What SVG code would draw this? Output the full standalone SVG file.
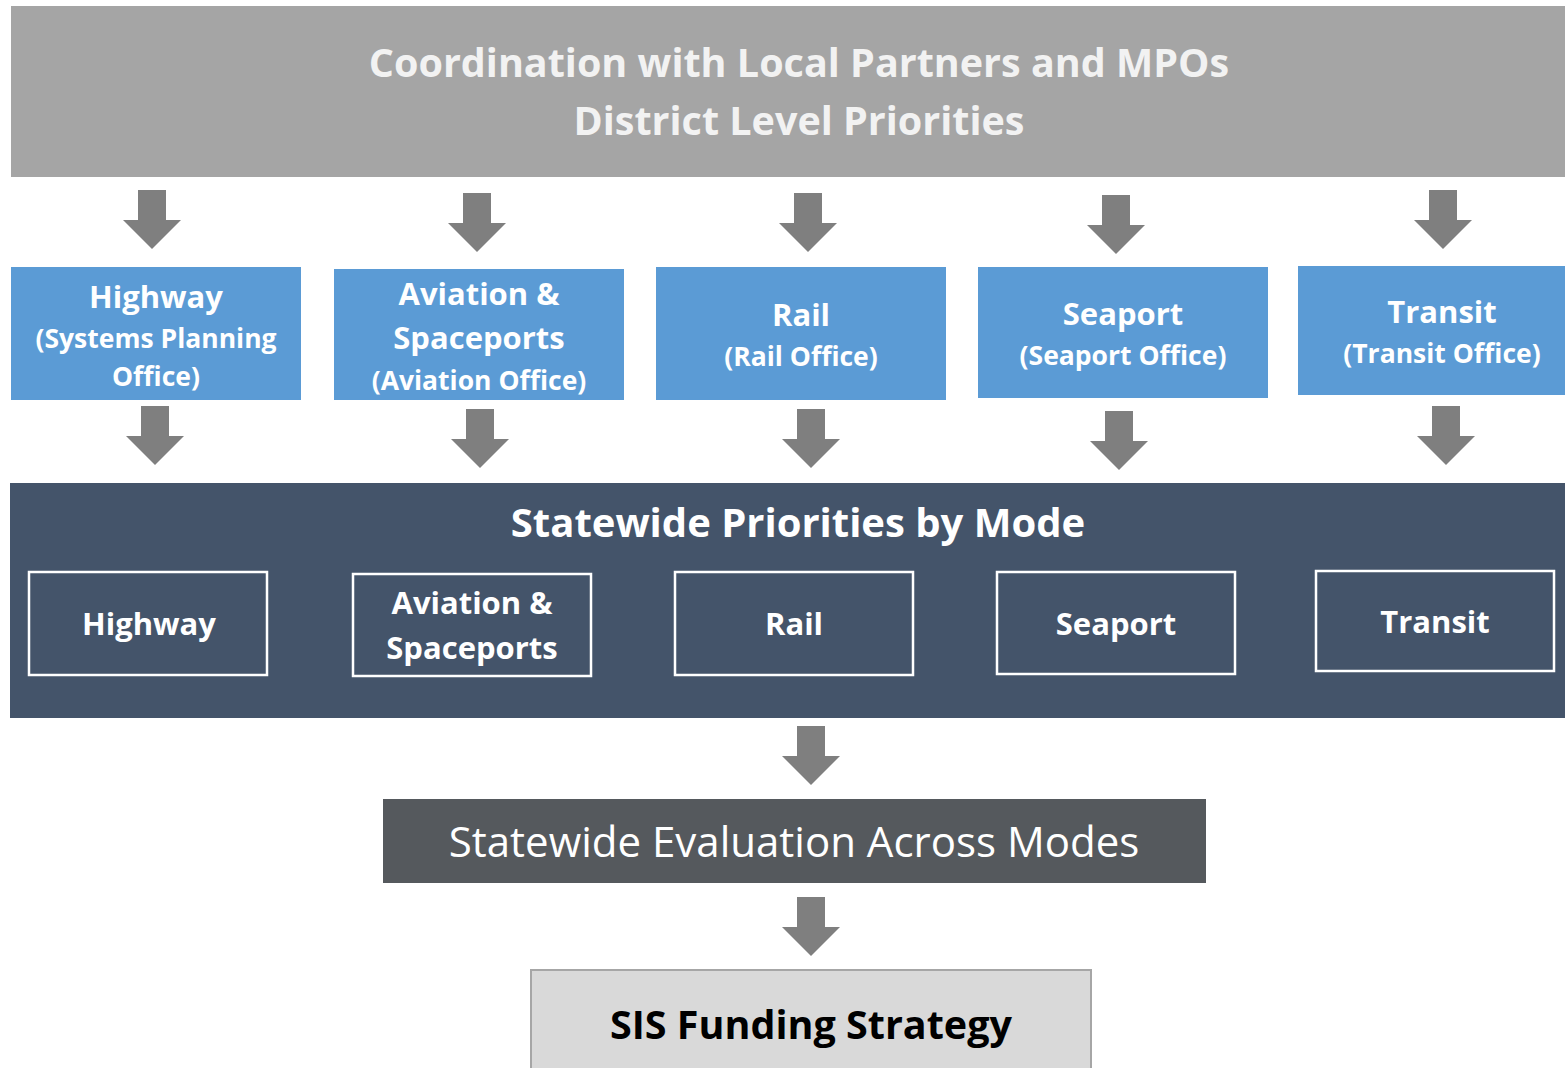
<svg xmlns="http://www.w3.org/2000/svg" xmlns:xlink="http://www.w3.org/1999/xlink" width="1565" height="1068" viewBox="0 0 1565 1068">
<style>
.t{font-family:"Open Sans","Noto Sans","Liberation Sans",sans-serif;text-anchor:middle}
.b{font-weight:bold}
.w{fill:#ffffff}
.blue{fill:#5b9bd5}
.inner{fill:none;stroke:#ffffff;stroke-width:2.5}
.arr{fill:#7f7f7f}
.h{font-size:31px}
.s{font-size:26.5px}
</style>
<defs>
<path id="dn" d="M-14,0 h28 v30 h15 l-29,29 l-29,-29 h15 z"/>
</defs>
<rect width="1565" height="1068" fill="#ffffff"/>
<g id="top">
<rect x="11" y="6" width="1554" height="171" fill="#a5a5a5"/>
<text class="t b" x="799" y="77" font-size="39.5" fill="#f2f2f2">Coordination with Local Partners and MPOs</text>
<text class="t b" x="799" y="135" font-size="39.5" fill="#f2f2f2">District Level Priorities</text>
</g>
<g id="highway">
<rect class="blue" x="11" y="267" width="290" height="133"/>
<text class="t b w h" x="156" y="308">Highway</text>
<text class="t b w s" x="156" y="348">(Systems Planning</text>
<text class="t b w s" x="156" y="386">Office)</text>
</g>
<g id="aviation">
<rect class="blue" x="334" y="269" width="290" height="131"/>
<text class="t b w h" x="479" y="305">Aviation &amp;</text>
<text class="t b w h" x="479" y="349">Spaceports</text>
<text class="t b w s" x="479" y="390">(Aviation Office)</text>
</g>
<g id="rail">
<rect class="blue" x="656" y="267" width="290" height="133"/>
<text class="t b w h" x="801" y="326">Rail</text>
<text class="t b w s" x="801" y="366">(Rail Office)</text>
</g>
<g id="seaport">
<rect class="blue" x="978" y="267" width="290" height="131"/>
<text class="t b w h" x="1123" y="325">Seaport</text>
<text class="t b w s" x="1123" y="365">(Seaport Office)</text>
</g>
<g id="transit">
<rect class="blue" x="1298" y="266" width="267" height="129"/>
<text class="t b w h" x="1442" y="323">Transit</text>
<text class="t b w s" x="1442" y="363">(Transit Office)</text>
</g>
<g id="statewide">
<rect x="10" y="483" width="1555" height="235" fill="#44546a"/>
<text class="t b w" x="798" y="537" font-size="40">Statewide Priorities by Mode</text>
</g>
<g id="sw-highway">
<rect class="inner" x="29" y="572" width="238" height="103"/>
<text class="t b w h" x="149" y="635">Highway</text>
</g>
<g id="sw-aviation">
<rect class="inner" x="353" y="574" width="238" height="102"/>
<text class="t b w h" x="472" y="614">Aviation &amp;</text>
<text class="t b w h" x="472" y="659">Spaceports</text>
</g>
<g id="sw-rail">
<rect class="inner" x="675" y="572" width="238" height="103"/>
<text class="t b w h" x="794" y="635">Rail</text>
</g>
<g id="sw-seaport">
<rect class="inner" x="997" y="572" width="238" height="102"/>
<text class="t b w h" x="1116" y="635">Seaport</text>
</g>
<g id="sw-transit">
<rect class="inner" x="1316" y="571" width="238" height="100"/>
<text class="t b w h" x="1435" y="633">Transit</text>
</g>
<g id="evaluation">
<rect x="383" y="799" width="823" height="84" fill="#55595d"/>
<text class="t w" x="794" y="857" font-size="42">Statewide Evaluation Across Modes</text>
</g>
<g id="funding">
<rect x="531" y="970" width="560" height="110" fill="#d9d9d9" stroke="#a6a6a6" stroke-width="2"/>
<text class="t b" x="811" y="1039" font-size="39.5" fill="#000000">SIS Funding Strategy</text>
</g>
<g id="connectors" class="arr">
<use href="#dn" x="152" y="190"/>
<use href="#dn" x="477" y="193"/>
<use href="#dn" x="808" y="193"/>
<use href="#dn" x="1116" y="195"/>
<use href="#dn" x="1443" y="190"/>
<use href="#dn" x="155" y="406"/>
<use href="#dn" x="480" y="409"/>
<use href="#dn" x="811" y="409"/>
<use href="#dn" x="1119" y="411"/>
<use href="#dn" x="1446" y="406"/>
<use href="#dn" x="811" y="726"/>
<use href="#dn" x="811" y="897"/>
</g>
</svg>
